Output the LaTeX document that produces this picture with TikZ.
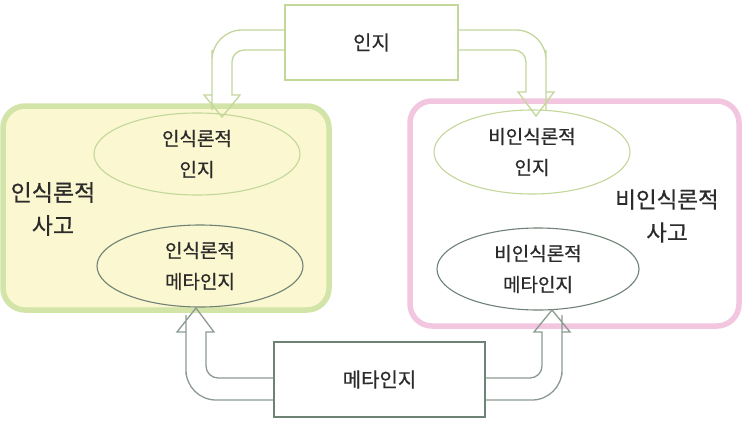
\documentclass[tikz,border=0pt]{standalone}
\usepackage{fontspec}
\setmainfont{Noto Sans CJK KR}[FakeBold=0.5]
\usetikzlibrary{calc,shapes.geometric}

\definecolor{paleyellow}{HTML}{FBF7D0}
\definecolor{leafgreen}{HTML}{D2E4A8}
\definecolor{rosepink}{HTML}{F2C6DF}
\definecolor{olivegreen}{HTML}{C3D79A}
\definecolor{slategreen}{HTML}{6F8276}
\definecolor{inkgray}{HTML}{2B2B2B}

\tikzset{
  region/.style={line width=5.5pt, rounded corners=22pt},
  labelbox/.style={draw, line width=1.2pt, fill=white, inner sep=0pt,
    font=\fontsize{20}{24}\selectfont, text=inkgray},
  oval/.style={ellipse, draw, line width=1.1pt, inner sep=0pt, align=center,
    font=\fontsize{19}{31}\selectfont, text=inkgray},
  bigtext/.style={align=center, font=\fontsize{23}{33}\selectfont, text=inkgray},
  blockarrow/.style={line width=1.3pt, line join=miter}
}

\begin{document}
\begin{tikzpicture}[x=1pt,y=-1pt]
\useasboundingbox (0,0) rectangle (744,423);
\fill[white] (0,0) rectangle (744,423);

% the two thinking regions
\draw[region, draw=leafgreen, fill=paleyellow] (3,106) rectangle (329,310);
\draw[region, draw=rosepink, fill=white] (410,101) rectangle (739,326);

% region titles
\node[bigtext] (epi) at (53,209) {인식론적\\사고};
\node[bigtext, font=\fontsize{22.5}{33}\selectfont] (nonepi) at (667,216) {비인식론적\\사고};

% cognition and metacognition ovals
\node[oval, draw=olivegreen, minimum width=206pt, minimum height=82pt] (ec) at (197,154) {인식론적\\인지};
\node[oval, draw=slategreen, minimum width=206pt, minimum height=82pt] (em) at (200,266) {인식론적\\메타인지};
\node[oval, draw=olivegreen, fill=white, minimum width=196pt, minimum height=84pt] (nc) at (532,152) {비인식론적\\인지};
\node[oval, draw=slategreen, fill=white, minimum width=202pt, minimum height=82pt] (nm) at (538,269) {비인식론적\\메타인지};

% source boxes
\node[labelbox, draw=olivegreen, minimum width=173pt, minimum height=75pt] (cog) at (371.5,42.5) {인지};
\node[labelbox, draw=slategreen, minimum width=211pt, minimum height=75pt] (meta) at (379.5,379.5) {메타인지};

% block arrows: cognition box down to the cognition ovals
\draw[blockarrow, draw=olivegreen]
  (cog.west |- 0,30) [rounded corners=30pt] -| (212,80) [sharp corners]
  -- (212,95) -- (204,95) -- (222,117) -- (240,95) -- (232,95) -- (232,80)
  [rounded corners=12pt] |- (cog.west |- 0,50);
\draw[blockarrow, draw=olivegreen]
  (cog.east |- 0,30) [rounded corners=30pt] -| (546,80) [sharp corners]
  -- (546,92) -- (554,92) -- (536,116) -- (518,92) -- (526,92) -- (526,80)
  [rounded corners=12pt] |- (cog.east |- 0,50);

% block arrows: metacognition box up to the metacognition ovals
\draw[blockarrow, draw=slategreen!80]
  (meta.west |- 0,400) [rounded corners=30pt] -| (186,345) [sharp corners]
  -- (186,332) -- (177,332) -- (196,308) -- (214,332) -- (206,332) -- (206,345)
  [rounded corners=12pt] |- (meta.west |- 0,378);
\draw[blockarrow, draw=slategreen!80]
  (meta.east |- 0,400) [rounded corners=30pt] -| (562,345) [sharp corners]
  -- (562,332) -- (570,332) -- (552,310) -- (534,332) -- (542,332) -- (542,345)
  [rounded corners=12pt] |- (meta.east |- 0,378);
\end{tikzpicture}
\end{document}
